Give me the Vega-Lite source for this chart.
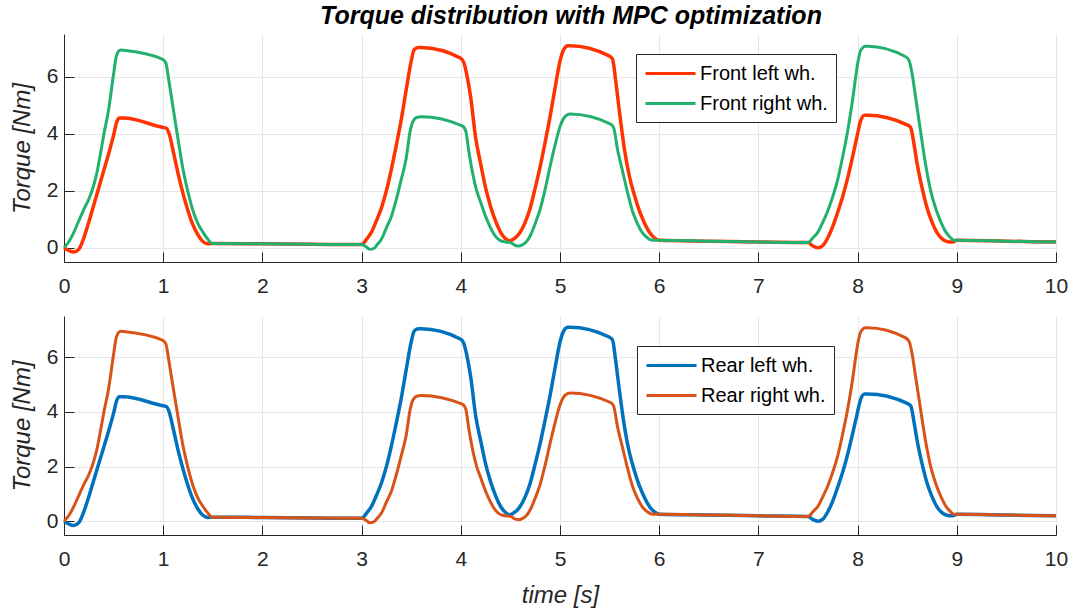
{
 "$schema": "https://vega.github.io/schema/vega-lite/v6.json",
 "background": "white",
 "padding": {"left": 10, "top": 4, "right": 5, "bottom": 5},
 "title": {"text": "Torque distribution with MPC optimization", "fontSize": 25, "fontStyle": "italic", "fontWeight": "bold", "font": "Liberation Sans", "color": "#000000", "anchor": "middle", "offset": 5, "dx": 32},
 "spacing": 20,
 "datasets": {
  "torque": [
   {"t":0,"v":0,"side":"left"},{"t":0.05,"v":-0.1,"side":"left"},{"t":0.1,"v":-0.15,"side":"left"},{"t":0.15,"v":-0.05,"side":"left"},{"t":0.2,"v":0.35,"side":"left"},{"t":0.25,"v":0.9,"side":"left"},{"t":0.3,"v":1.5,"side":"left"},{"t":0.35,"v":2.1,"side":"left"},{"t":0.4,"v":2.7,"side":"left"},{"t":0.45,"v":3.3,"side":"left"},{"t":0.5,"v":3.95,"side":"left"},{"t":0.53,"v":4.4,"side":"left"},{"t":0.56,"v":4.55,"side":"left"},{"t":0.6,"v":4.55,"side":"left"},{"t":1.0,"v":4.22,"side":"left"},{"t":1.03,"v":4.2,"side":"left"},{"t":1.06,"v":4.0,"side":"left"},{"t":1.1,"v":3.4,"side":"left"},{"t":1.15,"v":2.6,"side":"left"},{"t":1.2,"v":1.9,"side":"left"},{"t":1.25,"v":1.3,"side":"left"},{"t":1.3,"v":0.8,"side":"left"},{"t":1.35,"v":0.45,"side":"left"},{"t":1.4,"v":0.22,"side":"left"},{"t":1.45,"v":0.14,"side":"left"},{"t":1.5,"v":0.15,"side":"left"},{"t":2.0,"v":0.14,"side":"left"},{"t":2.5,"v":0.12,"side":"left"},{"t":3.0,"v":0.11,"side":"left"},
   {"t":3.05,"v":0.3,"side":"left"},{"t":3.1,"v":0.55,"side":"left"},{"t":3.15,"v":0.95,"side":"left"},{"t":3.2,"v":1.4,"side":"left"},{"t":3.25,"v":2.0,"side":"left"},{"t":3.3,"v":2.75,"side":"left"},{"t":3.35,"v":3.6,"side":"left"},{"t":3.4,"v":4.5,"side":"left"},{"t":3.45,"v":5.55,"side":"left"},{"t":3.5,"v":6.55,"side":"left"},{"t":3.53,"v":6.95,"side":"left"},{"t":3.57,"v":7.03,"side":"left"},{"t":3.6,"v":7.03,"side":"left"},{"t":4.0,"v":6.65,"side":"left"},{"t":4.03,"v":6.5,"side":"left"},{"t":4.07,"v":5.9,"side":"left"},{"t":4.1,"v":5.27,"side":"left"},{"t":4.15,"v":3.85,"side":"left"},{"t":4.2,"v":2.95,"side":"left"},{"t":4.25,"v":2.1,"side":"left"},{"t":4.3,"v":1.45,"side":"left"},{"t":4.35,"v":0.94,"side":"left"},{"t":4.4,"v":0.55,"side":"left"},{"t":4.45,"v":0.32,"side":"left"},{"t":4.49,"v":0.24,"side":"left"},{"t":4.53,"v":0.3,"side":"left"},{"t":4.59,"v":0.5,"side":"left"},{"t":4.65,"v":0.9,"side":"left"},{"t":4.7,"v":1.4,"side":"left"},{"t":4.75,"v":2.1,"side":"left"},{"t":4.8,"v":2.85,"side":"left"},{"t":4.85,"v":3.7,"side":"left"},{"t":4.9,"v":4.6,"side":"left"},{"t":4.95,"v":5.6,"side":"left"},{"t":5.0,"v":6.55,"side":"left"},{"t":5.04,"v":6.97,"side":"left"},{"t":5.08,"v":7.09,"side":"left"},{"t":5.1,"v":7.09,"side":"left"},{"t":5.49,"v":6.74,"side":"left"},{"t":5.53,"v":6.62,"side":"left"},{"t":5.56,"v":5.9,"side":"left"},{"t":5.6,"v":4.75,"side":"left"},{"t":5.65,"v":3.45,"side":"left"},{"t":5.7,"v":2.5,"side":"left"},{"t":5.75,"v":1.85,"side":"left"},{"t":5.8,"v":1.3,"side":"left"},{"t":5.85,"v":0.88,"side":"left"},{"t":5.9,"v":0.55,"side":"left"},{"t":5.95,"v":0.35,"side":"left"},{"t":6.0,"v":0.26,"side":"left"},{"t":6.5,"v":0.23,"side":"left"},{"t":7.0,"v":0.2,"side":"left"},{"t":7.5,"v":0.18,"side":"left"},
   {"t":7.55,"v":0.06,"side":"left"},{"t":7.6,"v":0.0,"side":"left"},{"t":7.65,"v":0.08,"side":"left"},{"t":7.7,"v":0.35,"side":"left"},{"t":7.75,"v":0.75,"side":"left"},{"t":7.8,"v":1.25,"side":"left"},{"t":7.85,"v":1.8,"side":"left"},{"t":7.9,"v":2.45,"side":"left"},{"t":7.95,"v":3.2,"side":"left"},{"t":8.0,"v":4.0,"side":"left"},{"t":8.03,"v":4.45,"side":"left"},{"t":8.07,"v":4.65,"side":"left"},{"t":8.1,"v":4.65,"side":"left"},{"t":8.5,"v":4.31,"side":"left"},{"t":8.535,"v":4.22,"side":"left"},{"t":8.57,"v":3.6,"side":"left"},{"t":8.6,"v":2.95,"side":"left"},{"t":8.65,"v":2.1,"side":"left"},{"t":8.7,"v":1.4,"side":"left"},{"t":8.75,"v":0.9,"side":"left"},{"t":8.8,"v":0.53,"side":"left"},{"t":8.85,"v":0.32,"side":"left"},{"t":8.9,"v":0.22,"side":"left"},{"t":8.96,"v":0.2,"side":"left"},{"t":9.0,"v":0.26,"side":"left"},{"t":9.5,"v":0.23,"side":"left"},{"t":10.0,"v":0.2,"side":"left"},
   {"t":0,"v":0,"side":"right"},{"t":0.05,"v":0.22,"side":"right"},{"t":0.1,"v":0.55,"side":"right"},{"t":0.15,"v":0.95,"side":"right"},{"t":0.2,"v":1.35,"side":"right"},{"t":0.25,"v":1.7,"side":"right"},{"t":0.3,"v":2.2,"side":"right"},{"t":0.33,"v":2.6,"side":"right"},{"t":0.36,"v":3.15,"side":"right"},{"t":0.4,"v":3.95,"side":"right"},{"t":0.45,"v":4.85,"side":"right"},{"t":0.5,"v":6.1,"side":"right"},{"t":0.53,"v":6.75,"side":"right"},{"t":0.57,"v":6.94,"side":"right"},{"t":0.6,"v":6.93,"side":"right"},{"t":0.99,"v":6.62,"side":"right"},{"t":1.025,"v":6.5,"side":"right"},{"t":1.06,"v":5.8,"side":"right"},{"t":1.1,"v":4.9,"side":"right"},{"t":1.15,"v":3.8,"side":"right"},{"t":1.2,"v":2.75,"side":"right"},{"t":1.25,"v":1.95,"side":"right"},{"t":1.3,"v":1.3,"side":"right"},{"t":1.35,"v":0.85,"side":"right"},{"t":1.4,"v":0.55,"side":"right"},{"t":1.45,"v":0.3,"side":"right"},{"t":1.48,"v":0.18,"side":"right"},{"t":1.5,"v":0.15,"side":"right"},{"t":2.0,"v":0.14,"side":"right"},{"t":2.5,"v":0.12,"side":"right"},{"t":3.0,"v":0.11,"side":"right"},
   {"t":3.04,"v":0.05,"side":"right"},{"t":3.08,"v":-0.05,"side":"right"},{"t":3.12,"v":-0.03,"side":"right"},{"t":3.16,"v":0.12,"side":"right"},{"t":3.2,"v":0.3,"side":"right"},{"t":3.25,"v":0.7,"side":"right"},{"t":3.3,"v":1.1,"side":"right"},{"t":3.35,"v":1.7,"side":"right"},{"t":3.4,"v":2.4,"side":"right"},{"t":3.45,"v":3.15,"side":"right"},{"t":3.49,"v":4.1,"side":"right"},{"t":3.52,"v":4.45,"side":"right"},{"t":3.56,"v":4.58,"side":"right"},{"t":3.6,"v":4.6,"side":"right"},{"t":4.015,"v":4.28,"side":"right"},{"t":4.05,"v":4.1,"side":"right"},{"t":4.08,"v":3.4,"side":"right"},{"t":4.12,"v":2.6,"side":"right"},{"t":4.16,"v":2.0,"side":"right"},{"t":4.2,"v":1.6,"side":"right"},{"t":4.25,"v":1.1,"side":"right"},{"t":4.3,"v":0.7,"side":"right"},{"t":4.35,"v":0.4,"side":"right"},{"t":4.4,"v":0.25,"side":"right"},{"t":4.45,"v":0.2,"side":"right"},{"t":4.5,"v":0.18,"side":"right"},{"t":4.55,"v":0.08,"side":"right"},{"t":4.59,"v":0.06,"side":"right"},{"t":4.63,"v":0.12,"side":"right"},{"t":4.67,"v":0.25,"side":"right"},{"t":4.7,"v":0.42,"side":"right"},{"t":4.75,"v":0.85,"side":"right"},{"t":4.8,"v":1.35,"side":"right"},{"t":4.85,"v":2.05,"side":"right"},{"t":4.9,"v":2.85,"side":"right"},{"t":4.95,"v":3.6,"side":"right"},{"t":5.0,"v":4.25,"side":"right"},{"t":5.05,"v":4.6,"side":"right"},{"t":5.1,"v":4.69,"side":"right"},{"t":5.51,"v":4.34,"side":"right"},{"t":5.54,"v":4.22,"side":"right"},{"t":5.58,"v":3.45,"side":"right"},{"t":5.63,"v":2.7,"side":"right"},{"t":5.68,"v":1.95,"side":"right"},{"t":5.73,"v":1.29,"side":"right"},{"t":5.78,"v":0.85,"side":"right"},{"t":5.83,"v":0.53,"side":"right"},{"t":5.88,"v":0.35,"side":"right"},{"t":5.93,"v":0.26,"side":"right"},{"t":6.0,"v":0.26,"side":"right"},{"t":6.5,"v":0.23,"side":"right"},{"t":7.0,"v":0.2,"side":"right"},{"t":7.5,"v":0.18,"side":"right"},
   {"t":7.55,"v":0.35,"side":"right"},{"t":7.6,"v":0.55,"side":"right"},{"t":7.65,"v":0.9,"side":"right"},{"t":7.7,"v":1.3,"side":"right"},{"t":7.75,"v":1.8,"side":"right"},{"t":7.8,"v":2.4,"side":"right"},{"t":7.85,"v":3.2,"side":"right"},{"t":7.9,"v":4.1,"side":"right"},{"t":7.95,"v":5.2,"side":"right"},{"t":8.0,"v":6.45,"side":"right"},{"t":8.03,"v":6.91,"side":"right"},{"t":8.08,"v":7.07,"side":"right"},{"t":8.1,"v":7.07,"side":"right"},{"t":8.485,"v":6.7,"side":"right"},{"t":8.52,"v":6.56,"side":"right"},{"t":8.55,"v":6.1,"side":"right"},{"t":8.585,"v":5.27,"side":"right"},{"t":8.63,"v":4.2,"side":"right"},{"t":8.685,"v":2.93,"side":"right"},{"t":8.74,"v":1.95,"side":"right"},{"t":8.79,"v":1.35,"side":"right"},{"t":8.84,"v":0.9,"side":"right"},{"t":8.89,"v":0.55,"side":"right"},{"t":8.93,"v":0.38,"side":"right"},{"t":8.97,"v":0.26,"side":"right"},{"t":9.0,"v":0.26,"side":"right"},{"t":9.5,"v":0.23,"side":"right"},{"t":10.0,"v":0.2,"side":"right"}
  ]
 },
 "config": {
  "view": {"stroke": null},
  "axis": {"labelFont": "Liberation Sans", "labelFontSize": 21, "labelColor": "#262626", "labelFlush": false, "titleFont": "Liberation Sans", "titleFontSize": 24, "titleFontStyle": "italic", "titleFontWeight": "normal", "titleColor": "#262626", "domainColor": "#262626", "tickColor": "#262626", "gridColor": "#e6e6e6", "tickSize": -10, "domainWidth": 1, "tickWidth": 1, "gridWidth": 1},
  "axisX": {"labelPadding": 23, "titlePadding": 14},
  "axisY": {"labelPadding": 16, "titlePadding": 12},
  "legend": {"fillColor": "white", "strokeColor": "#262626", "strokeWidth": 1, "padding": 8, "labelFont": "Liberation Sans", "labelFontSize": 20, "labelColor": "#000000", "symbolType": "M-2.5,0L2.5,0", "symbolSize": 400, "symbolOffset": 15, "symbolStrokeWidth": 3, "labelOffset": 18, "rowPadding": 8, "cornerRadius": 0}
 },
 "resolve": {"scale": {"color": "independent"}, "legend": {"color": "independent"}},
 "vconcat": [
  {
   "width": 992, "height": 228,
   "data": {"name": "torque"},
   "encoding": {
    "x": {"field": "t", "type": "quantitative", "scale": {"domain": [0, 10], "nice": false}, "axis": {"values": [0,1,2,3,4,5,6,7,8,9,10], "title": null}},
    "y": {"field": "v", "type": "quantitative", "scale": {"domain": [-0.5, 7.5], "nice": false}, "axis": {"values": [0,2,4,6], "title": "Torque [Nm]"}},
    "color": {"field": "side", "type": "nominal", "scale": {"domain": ["left", "right"], "range": ["#ff3300", "#22b06e"]}, "legend": {"orient": "none", "legendX": 572, "legendY": 20, "title": null, "labelExpr": "datum.label == 'left' ? 'Front left wh.' : 'Front right wh.'"}}
   },
   "layer": [
    {"transform": [{"filter": "datum.side == 'left'"}], "mark": {"type": "line", "strokeWidth": 3.5, "interpolate": "monotone"}},
    {"transform": [{"filter": "datum.side == 'right'"}], "mark": {"type": "line", "strokeWidth": 3, "interpolate": "monotone"}}
   ]
  },
  {
   "width": 992, "height": 219,
   "data": {"name": "torque"},
   "encoding": {
    "x": {"field": "t", "type": "quantitative", "scale": {"domain": [0, 10], "nice": false}, "axis": {"values": [0,1,2,3,4,5,6,7,8,9,10], "title": "time [s]"}},
    "y": {"field": "v", "type": "quantitative", "scale": {"domain": [-0.5, 7.5], "nice": false}, "axis": {"values": [0,2,4,6], "title": "Torque [Nm]"}},
    "color": {"field": "side", "type": "nominal", "scale": {"domain": ["left", "right"], "range": ["#0072bd", "#d95319"]}, "legend": {"orient": "none", "legendX": 573, "legendY": 30, "title": null, "labelExpr": "datum.label == 'left' ? 'Rear left wh.' : 'Rear right wh.'"}}
   },
   "layer": [
    {"transform": [{"filter": "datum.side == 'left'"}], "mark": {"type": "line", "strokeWidth": 3.5, "interpolate": "monotone"}},
    {"transform": [{"filter": "datum.side == 'right'"}], "mark": {"type": "line", "strokeWidth": 3, "interpolate": "monotone"}}
   ]
  }
 ]
}
